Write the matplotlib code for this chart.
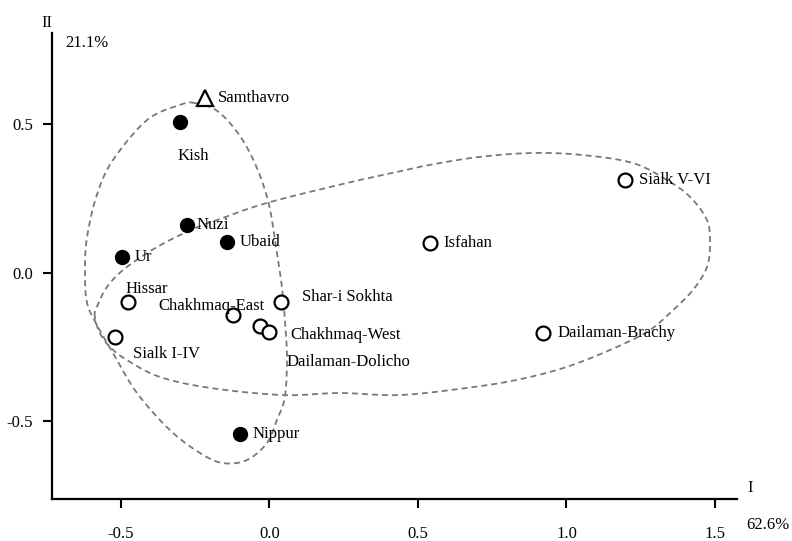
import numpy as np
import matplotlib
matplotlib.use("Agg")
import matplotlib.pyplot as plt

plt.rcParams['font.family'] = ['Liberation Serif', 'DejaVu Serif']
plt.rcParams['lines.scale_dashes'] = False

# site scores on the first two axes
sites = ['Samthavro', 'Kish', 'Nuzi', 'Ubaid', 'Ur', 'Hissar', 'Sialk I-IV',
         'Chakhmaq-East', 'Chakhmaq-West', 'Dailaman-Dolicho', 'Shar-i Sokhta',
         'Nippur', 'Isfahan', 'Sialk V-VI', 'Dailaman-Brachy']
dim1 = [-0.217, -0.301, -0.278, -0.143, -0.497, -0.476, -0.520,
        -0.123, -0.032, -0.002, 0.039, -0.099, 0.540, 1.197, 0.921]
dim2 = [0.589, 0.508, 0.162, 0.104, 0.054, -0.098, -0.215,
        -0.141, -0.178, -0.199, -0.098, -0.542, 0.101, 0.313, -0.202]
group = ['tri', 'fill', 'fill', 'fill', 'fill', 'open', 'open',
         'open', 'open', 'open', 'open', 'fill', 'open', 'open', 'open']

# label offsets in pixels (dx, dy, horizontal alignment)
label_pos = {
    'Samthavro': (13, 0, 'left'),
    'Kish': (13, -34, 'center'),
    'Nuzi': (10, 0, 'left'),
    'Ubaid': (13, 0, 'left'),
    'Ur': (13, 0, 'left'),
    'Hissar': (-3, 13, 'left'),
    'Sialk I-IV': (18, -17, 'left'),
    'Chakhmaq-East': (32, 9, 'right'),
    'Chakhmaq-West': (30, -9, 'left'),
    'Dailaman-Dolicho': (18, -30, 'left'),
    'Shar-i Sokhta': (21, 5, 'left'),
    'Nippur': (12, 0, 'left'),
    'Isfahan': (14, 0, 'left'),
    'Sialk V-VI': (14, 0, 'left'),
    'Dailaman-Brachy': (14, 0, 'left'),
}

# outlines of the two site groupings
west_x = [-0.251, -0.167, -0.076, -0.008, 0.025, 0.042, 0.052, 0.059, 0.052,
          0.025, -0.008, -0.076, -0.157, -0.234, -0.335, -0.446, -0.527,
          -0.577, -0.614, -0.621, -0.614, -0.581, -0.527, -0.412, -0.301]
west_y = [0.572, 0.539, 0.424, 0.256, 0.067, -0.047, -0.158, -0.283, -0.418,
          -0.495, -0.572, -0.630, -0.640, -0.606, -0.529, -0.404, -0.269,
          -0.182, -0.101, 0.010, 0.121, 0.263, 0.380, 0.515, 0.566]
east_x = [-0.588, -0.581, -0.547, -0.493, -0.412, -0.335, -0.241, -0.177,
          -0.008, 0.261, 0.429, 0.540, 0.709, 0.887, 1.056, 1.224, 1.338,
          1.416, 1.473, 1.483, 1.473, 1.426, 1.359, 1.281, 1.170, 1.002,
          0.833, 0.665, 0.439, 0.237, 0.045, -0.200, -0.369, -0.480,
          -0.537, -0.571]
east_y = [-0.148, -0.114, -0.047, 0.010, 0.067, 0.111, 0.155, 0.178,
          0.236, 0.303, 0.340, 0.364, 0.391, 0.404, 0.397, 0.370, 0.313,
          0.256, 0.178, 0.101, 0.020, -0.057, -0.125, -0.192, -0.249,
          -0.316, -0.360, -0.387, -0.411, -0.404, -0.411, -0.387, -0.350,
          -0.293, -0.249, -0.202]

xticks = [-0.5, 0.0, 0.5, 1.0, 1.5]
yticks = [-0.5, 0.0, 0.5]


def smooth_closed(xs, ys, n=12):
    # closed Catmull-Rom curve through the outline vertices
    p = np.column_stack([xs, ys])
    k = len(p)
    out = []
    for i in range(k):
        p0, p1, p2, p3 = p[i - 1], p[i], p[(i + 1) % k], p[(i + 2) % k]
        for t in np.linspace(0, 1, n, endpoint=False):
            out.append(0.5 * ((2 * p1) + (-p0 + p2) * t +
                              (2 * p0 - 5 * p1 + 4 * p2 - p3) * t ** 2 +
                              (-p0 + 3 * p1 - 3 * p2 + p3) * t ** 3))
    out.append(out[0])
    out = np.array(out)
    return out[:, 0], out[:, 1]


fig = plt.figure(figsize=(7.92, 5.41), dpi=100)
ax = fig.add_axes([52 / 792, 42 / 541, 685 / 792, 466 / 541])

for xs, ys in [(west_x, west_y), (east_x, east_y)]:
    cx, cy = smooth_closed(xs, ys)
    ax.plot(cx, cy, color='#787878', lw=1.3, dashes=(4.3, 2.9), zorder=1)

for i, name in enumerate(sites):
    if group[i] == 'fill':
        ax.plot(dim1[i], dim2[i], 'o', ms=10, mfc='black', mec='black', zorder=3)
    elif group[i] == 'open':
        ax.plot(dim1[i], dim2[i], 'o', ms=10, mfc='white', mec='black',
                mew=1.6, zorder=3)
    else:
        ax.plot(dim1[i], dim2[i], '^', ms=11, mfc='white', mec='black',
                mew=1.6, zorder=3)
    dx, dy, ha = label_pos[name]
    ax.annotate(name, (dim1[i], dim2[i]), xytext=(dx, dy),
                textcoords='offset pixels', ha=ha, va='center',
                fontsize=12, zorder=4)

ax.set_xlim(-0.732, 1.574)
ax.set_ylim(-0.761, 0.808)
ax.set_xticks(xticks)
ax.set_xticklabels(['%.1f' % v for v in xticks])
ax.set_yticks(yticks)
ax.set_yticklabels(['%.1f' % v for v in yticks])
ax.spines['top'].set_visible(False)
ax.spines['right'].set_visible(False)
for s in ['left', 'bottom']:
    ax.spines[s].set_linewidth(1.6)
ax.tick_params(axis='x', direction='out', length=6.5, width=1.5, pad=13,
               labelsize=12)
ax.tick_params(axis='y', direction='out', length=6.5, width=1.5, pad=7,
               labelsize=12)

fig.text(47 / 792, 1 - 23 / 541, 'II', ha='center', va='center', fontsize=12)
fig.text(65 / 792, 1 - 43 / 541, '21.1%', ha='left', va='center', fontsize=12)
fig.text(750 / 792, 1 - 488 / 541, 'I', ha='center', va='center', fontsize=12)
fig.text(768 / 792, 1 - 525 / 541, '62.6%', ha='center', va='center',
         fontsize=12)

fig.savefig('out.png', dpi=100)
